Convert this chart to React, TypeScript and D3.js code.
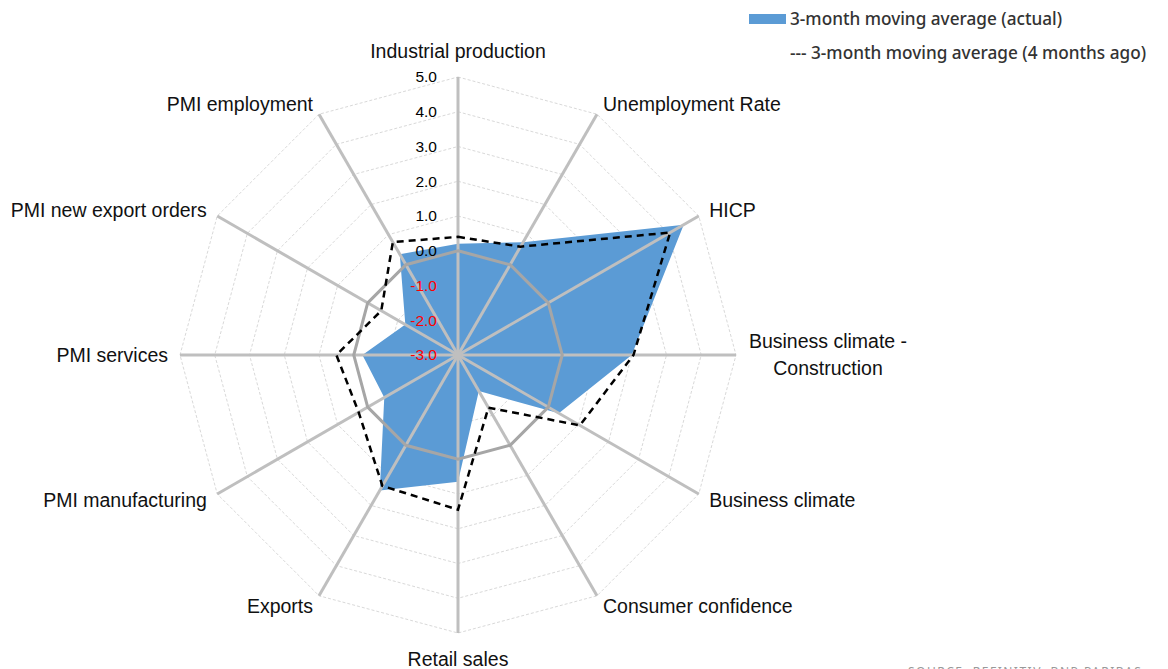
import React from 'react'
import * as d3 from 'd3'

// axis order: clockwise from the top
const indicators = [
  'Industrial production',
  'Unemployment Rate',
  'HICP',
  'Business climate -|Construction',
  'Business climate',
  'Consumer confidence',
  'Retail sales',
  'Exports',
  'PMI manufacturing',
  'PMI services',
  'PMI new export orders',
  'PMI employment',
]
const actual = [0.2, 0.75, 4.5, 2.0, 0.35, -1.8, 0.65, 1.5, -0.55, -0.25, -1.25, 0.35]
const fourMonthsAgo = [0.4, 0.6, 4.05, 2.05, 1.05, -1.25, 1.45, 1.35, 0.3, 0.5, -0.45, 0.75]
const ticks = [-3, -2, -1, 0, 1, 2, 3, 4, 5]
const legendLabels = ['3-month moving average (actual)', '--- 3-month moving average (4 months ago)']

const width = 1168
const height = 669
const cx = 458
const cy = 355
const R = 278
const blue = '#5B9BD5'
const labelFont = '"Liberation Sans", Arial, sans-serif'

export default function App() {
  const r = d3.scaleLinear().domain([-3, 5]).range([0, R])
  const angle = d3.scaleLinear().domain([0, indicators.length]).range([0, 2 * Math.PI])
  const pt = (i: number, rad: number): [number, number] => [
    cx + rad * Math.sin(angle(i)),
    cy - rad * Math.cos(angle(i)),
  ]

  const radial = d3.lineRadial<number>()
    .angle((_, i) => angle(i))
    .radius(d => r(d))
    .curve(d3.curveLinearClosed)

  const ring = (v: number) => radial(indicators.map(() => v)) || ''

  return (
    <svg width={width} height={height} style={{ position: 'absolute', left: 0, top: 0 }}>
      <rect width={width} height={height} fill="#fff" />
      <g transform={`translate(${cx},${cy})`}>
        {ticks.filter(t => t > -3 && t !== 0).map(t => (
          <path key={t} d={ring(t)} fill="none" stroke="#d9d9d9" strokeWidth={1} strokeDasharray="3,2" />
        ))}
        <path d={radial(actual) || ''} fill={blue} />
      </g>
      {indicators.map((_, i) => {
        const [x, y] = pt(i, R)
        return <line key={i} x1={cx} y1={cy} x2={x} y2={y} stroke="#bfbfbf" strokeWidth={3} />
      })}
      <g transform={`translate(${cx},${cy})`}>
        <path d={ring(0)} fill="none" stroke="#a6a6a6" strokeWidth={3} />
        <path d={radial(fourMonthsAgo) || ''} fill="none" stroke="#000" strokeWidth={2.5} strokeDasharray="7,5" />
      </g>
      <circle cx={cx} cy={cy} r={4} fill="#bfbfbf" />
      {ticks.map(t => (
        <text key={t} x={cx - 21} y={cy - r(t)} dy="0.35em" textAnchor="end"
          fontFamily={labelFont} fontSize={15.5} fill={t < 0 ? '#ff0000' : '#000'}>
          {t.toFixed(1)}
        </text>
      ))}
      {indicators.map((name, i) => {
        const s = Math.sin(angle(i))
        const c = Math.cos(angle(i))
        const lines = name.split('|')
        let [x, y] = pt(i, R + 12)
        let anchor = s > 0.01 ? 'start' : s < -0.01 ? 'end' : 'middle'
        if (Math.abs(s) <= 0.01) y = c > 0 ? cy - R - 26 : cy + R + 26
        if (lines.length > 1) { anchor = 'middle'; x += 80 }
        const y0 = y - ((lines.length - 1) * 27) / 2
        return (
          <text key={name} textAnchor={anchor} fontFamily={labelFont} fontSize={19.5} fill="#111">
            {lines.map((ln, k) => (
              <tspan key={k} x={x} y={y0 + k * 27} dy="0.35em">{ln}</tspan>
            ))}
          </text>
        )
      })}
      <rect x={749} y={14} width={37} height={10} fill={blue} />
      {legendLabels.map((l, i) => (
        <text key={l} x={790} y={19 + i * 34} dy="0.35em" fontFamily='"Noto Sans", sans-serif'
          fontSize={17.2} fontWeight={500} fill="#333">{l}</text>
      ))}
      <text x={908} y={676} fontFamily='"Noto Sans", sans-serif' fontSize={12} letterSpacing={1.5} fill="#999">
        SOURCE: REFINITIV, BNP PARIBAS
      </text>
    </svg>
  )
}
